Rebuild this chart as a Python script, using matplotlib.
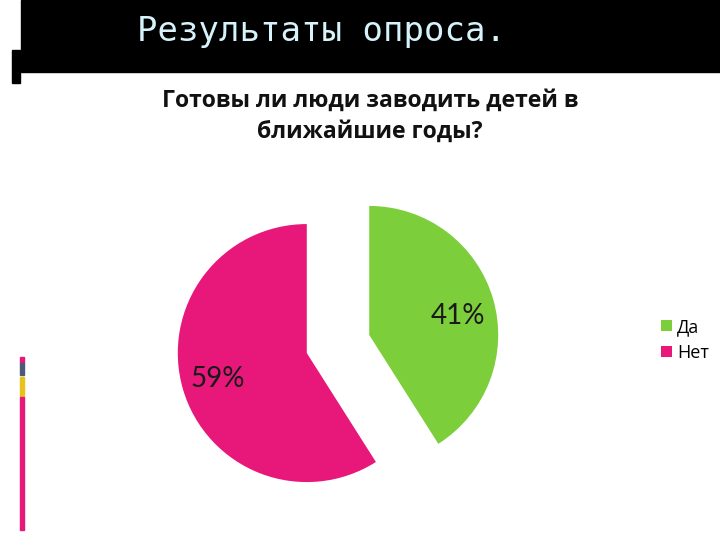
import matplotlib
matplotlib.use("Agg")
import matplotlib.pyplot as plt
from matplotlib.patches import Rectangle

title = "Результаты опроса."
subtitle = "Готовы ли люди заводить детей в\nближайшие годы?"
categories = ["Да", "Нет"]
values = [41, 59]
colors = ["#7DCE3B", "#E8177A"]

W, H = 720, 540
fig = plt.figure(figsize=(7.2, 5.4), dpi=100)
ax = fig.add_axes([0, 0, 1, 1])
ax.set_xlim(0, W)
ax.set_ylim(0, H)
ax.set_aspect("equal")
ax.axis("off")

def Y(y):
    return H - y

# header band and decorations
ax.add_patch(Rectangle((21, Y(72)), W - 21, 72, color="black", zorder=1))
ax.add_patch(Rectangle((12, Y(83)), 8, 33, color="black", zorder=1))
ax.add_patch(Rectangle((20, Y(363)), 4, 6, color="#E8177A"))
ax.add_patch(Rectangle((20, Y(375)), 4, 12, color="#4A5A78"))
ax.add_patch(Rectangle((20, Y(396)), 4, 19, color="#E8C21A"))
ax.add_patch(Rectangle((20, Y(530)), 4, 133, color="#E8177A"))

ax.text(137, Y(31), title, color="#D6F2FA", fontsize=24.5,
        family="DejaVu Sans Mono", va="center", ha="left", zorder=3)

ax.text(370, Y(116), subtitle, fontsize=16.6, fontweight="bold",
        family="Open Sans", ha="center", va="center", linespacing=1.38,
        color="#111111")

wedges, texts, autotexts = ax.pie(
    values, colors=colors, startangle=90, counterclock=False,
    center=(338, Y(344)), radius=129, explode=[32.5, 32.5],
    autopct=lambda p: f"{round(p)}%", pctdistance=0.72, frame=True,
    textprops=dict(fontsize=20, family="Lato", color="#1a1a1a"))
# small nudge of the green label (as in reference)
x0, y0 = autotexts[0].get_position()
autotexts[0].set_position((x0, y0 - 7))
ax.set_xlim(0, W)
ax.set_ylim(0, H)
ax.axis("off")

ax.legend(wedges, categories, loc="upper left",
          bbox_to_anchor=(661 / W, Y(318) / H), frameon=False,
          prop=dict(family="Open Sans", size=13), handlelength=0.6,
          handleheight=0.6, handletextpad=0.3, labelspacing=0.45,
          borderaxespad=0, borderpad=0)

fig.savefig("out.png", dpi=100)
